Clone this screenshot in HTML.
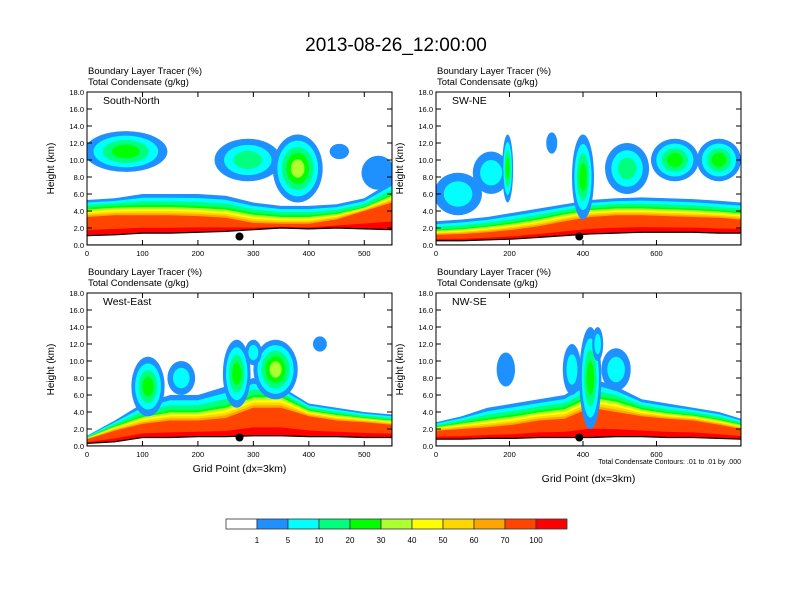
<!DOCTYPE html>
<html><head><meta charset="utf-8"><style>
body{margin:0;background:#fff}
svg{display:block;font-family:"Liberation Sans",sans-serif}
</style></head><body>
<svg id="svg" width="792" height="612" viewBox="0 0 792 612">
<text x="396" y="51" font-size="19" text-anchor="middle">2013-08-26_12:00:00</text>
<g id="panels"></g>
<g id="cbar"></g>
</svg>
<script>
const colors=["#ffffff","#1e90ff","#00ffff","#00ff7f","#00ff00","#adff2f","#ffff00","#ffd700","#ffa500","#ff4500","#ff0000"];
const cbarLabels=["1","5","10","20","30","40","50","60","70","100"];
const yTicks=[0,2,4,6,8,10,12,14,16,18];

const snX=[0,50,100,150,200,250,300,350,400,450,500,550];
const snGround=[1.1,1.2,1.4,1.4,1.5,1.6,1.8,2.0,1.9,2.0,1.9,1.8];
const snRed=[3.3,3.5,3.5,3.5,3.4,3.2,2.6,2.5,2.5,3.0,4.0,5.0];
const snGreen=[4.4,4.6,4.7,4.7,4.6,4.4,3.8,3.5,3.5,3.8,4.5,6.0];
const snBlue=[5.3,5.5,6.0,6.0,6.0,5.8,5.0,4.6,4.6,4.8,5.5,7.5];
const snClouds=[[70,11,150,4.8,4],[290,10,120,5,3],[380,9,90,8,5],[525,8.5,60,4,1],[455,11,35,1.8,1]];

const swX=[0,70,140,210,280,350,420,490,560,630,700,770,830];
const swGround=[0.5,0.5,0.6,0.7,0.9,1.1,1.3,1.4,1.5,1.5,1.5,1.4,1.4];
const swRed=[1.2,1.3,1.5,1.8,2.2,2.8,3.3,3.5,3.5,3.4,3.3,3.2,3.0];
const swGreen=[1.8,2.0,2.3,2.7,3.2,3.8,4.3,4.5,4.5,4.4,4.3,4.1,3.9];
const swBlue=[2.8,3.0,3.3,3.8,4.3,4.8,5.3,5.5,5.6,5.5,5.4,5.2,5.0];
const swClouds=[[60,6,130,5,2],[150,8.5,100,5,2],[195,9,30,8,4],[400,8,60,10,4],[520,9,120,6,3],[650,10,130,5,4],[770,10,120,5,4],[315,12,30,2.5,1]];

const weX=[0,50,100,150,200,250,300,350,400,450,500,550];
const weGround=[0.3,0.5,1.0,1.0,1.1,1.1,1.2,1.2,1.1,1.1,1.0,1.0];
const weRed=[0.8,1.8,2.6,3.0,3.0,3.3,4.5,4.5,3.5,3.0,2.8,2.5];
const weGreen=[1.0,2.4,3.6,4.2,4.2,4.8,6.0,6.0,4.3,3.8,3.4,3.1];
const weBlue=[1.2,3.0,5.0,6.0,6.0,7.0,8.0,7.0,5.0,4.5,4.0,3.7];
const weClouds=[[110,7,60,7,4],[170,8,50,4,2],[270,8.5,50,8,4],[340,9,80,7,5],[300,11,30,3,2],[420,12,25,1.8,1]];

const nwX=[0,70,140,210,280,350,420,490,560,630,700,770,830];
const nwGround=[0.8,0.8,0.9,0.9,1.0,1.0,1.0,1.1,1.1,1.0,1.0,0.9,0.8];
const nwRed=[1.8,2.0,2.2,2.5,3.0,3.2,4.5,4.0,3.5,3.2,3.0,2.5,2.0];
const nwGreen=[2.3,2.8,3.3,3.7,4.2,4.6,6.0,5.5,4.5,4.0,3.7,3.2,2.6];
const nwBlue=[2.8,3.5,4.5,5.0,5.5,6.0,8.0,7.0,5.5,5.0,4.5,4.0,3.2];
const nwClouds=[[190,9,50,4,1],[370,9,50,6,2],[420,8,60,12,4],[490,9,80,5,2],[440,12,30,4,2]];

const panels=[
 {name:"south-north",label:"South-North",x0:87,y0:92,xmax:550,xt:[0,100,200,300,400,500],X:snX,g:snGround,r:snRed,gr:snGreen,b:snBlue,c:snClouds,dot:275,xtitle:false},
 {name:"sw-ne",label:"SW-NE",x0:436,y0:92,xmax:830,xt:[0,200,400,600],X:swX,g:swGround,r:swRed,gr:swGreen,b:swBlue,c:swClouds,dot:390,xtitle:false},
 {name:"west-east",label:"West-East",x0:87,y0:293,xmax:550,xt:[0,100,200,300,400,500],X:weX,g:weGround,r:weRed,gr:weGreen,b:weBlue,c:weClouds,dot:275,xtitle:true},
 {name:"nw-se",label:"NW-SE",x0:436,y0:293,xmax:830,xt:[0,200,400,600],X:nwX,g:nwGround,r:nwRed,gr:nwGreen,b:nwBlue,c:nwClouds,dot:390,xtitle:true,note:true}
];
const NS="http://www.w3.org/2000/svg";
function mk(t,a,p){const e=document.createElementNS(NS,t);for(const k in a)e.setAttribute(k,a[k]);p.appendChild(e);return e;}
const root=document.getElementById('panels');
const W=305,H=153;
panels.forEach((P,pi)=>{
 const g=mk('g',{},root);
 
 
 const sx=v=>P.x0+v/P.xmax*W, sy=v=>P.y0+H-v/18*H;
 const cid='clip'+pi;
 const cp=mk('clipPath',{id:cid},g);mk('rect',{x:P.x0,y:P.y0,width:W,height:H},cp);
 const plot=mk('g',{'clip-path':`url(#${cid})`},g);
 const lerp=(a,b,f)=>P.X.map((_,i)=>a[i]+(b[i]-a[i])*f);
 const levels=[P.g,lerp(P.g,P.r,0.3),P.r,lerp(P.r,P.gr,0.2),lerp(P.r,P.gr,0.4),lerp(P.r,P.gr,0.6),lerp(P.r,P.gr,0.8),P.gr,lerp(P.gr,P.b,0.33),lerp(P.gr,P.b,0.66),P.b];
 const bandCol=[10,9,8,7,6,5,4,3,2,1];
 for(let k=levels.length-1;k>=1;k--){
  const top=levels[k];
  let d='M'+sx(P.X[0])+','+sy(0);
  P.X.forEach((x,i)=>d+=' L'+sx(x)+','+sy(top[i]));
  d+=' L'+sx(P.X[P.X.length-1])+','+sy(0)+'Z';
  const e=mk('path',{d,fill:colors[bandCol[k-1]]},plot);
  
  
 }
 P.c.forEach(c=>{
  for(let l=1;l<=c[4];l++){
   const f=1-(l-1)/(c[4]+0.5);
   const e=mk('ellipse',{cx:sx(c[0]),cy:sy(c[1]),rx:c[2]/2/P.xmax*W*f,ry:c[3]/2/18*H*f,fill:colors[l]},plot);
   
   
  }
 });
 let d='M'+sx(P.X[0])+','+sy(0);
 P.X.forEach((x,i)=>d+=' L'+sx(x)+','+sy(P.g[i]));
 d+=' L'+sx(P.X[P.X.length-1])+','+sy(0)+'Z';
 const t=mk('path',{d,fill:'#fff',stroke:'#000','stroke-width':1.2},plot);
 
 
 const dot=mk('circle',{cx:sx(P.dot),cy:sy(1.0),r:4,fill:'#000'},g);
 
 
 mk('rect',{x:P.x0,y:P.y0,width:W,height:H,fill:'none',stroke:'#000','stroke-width':1},g);
 yTicks.forEach(v=>{
  mk('line',{x1:P.x0,x2:P.x0+5,y1:sy(v),y2:sy(v),stroke:'#000'},g);
  mk('line',{x1:P.x0+W,x2:P.x0+W-5,y1:sy(v),y2:sy(v),stroke:'#000'},g);
  const tx=mk('text',{x:P.x0-3,y:sy(v)+3,'font-size':7.5,'text-anchor':'end'},g);tx.textContent=v.toFixed(1);
  
  
 });
 P.xt.forEach(v=>{
  mk('line',{x1:sx(v),x2:sx(v),y1:P.y0+H,y2:P.y0+H-5,stroke:'#000'},g);
  mk('line',{x1:sx(v),x2:sx(v),y1:P.y0,y2:P.y0+5,stroke:'#000'},g);
  const tx=mk('text',{x:sx(v),y:P.y0+H+11,'font-size':7.5,'text-anchor':'middle'},g);tx.textContent=v;
  
  
 });
 const lab=mk('text',{x:P.x0+16,y:P.y0+12,'font-size':10.5},g);lab.textContent=P.label;
 
 
 const h1=mk('text',{x:P.x0+1,y:P.y0-18,'font-size':9.5,'xml:space':'preserve'},g);h1.textContent='Boundary Layer Tracer   (%)';
 
 
 const h2=mk('text',{x:P.x0+1,y:P.y0-7,'font-size':9.5,'xml:space':'preserve'},g);h2.textContent='Total Condensate   (g/kg)';
 
 
 const yt=mk('text',{x:0,y:0,'font-size':10,'text-anchor':'middle',transform:`translate(${P.x0-33},${P.y0+H/2}) rotate(-90)`},g);yt.textContent='Height (km)';
 
 
 if(P.xtitle){
  const xt=mk('text',{x:P.x0+W/2,y:P.y0+H+(P.note?36:26),'font-size':10.5,'text-anchor':'middle'},g);xt.textContent='Grid Point (dx=3km)';
  
  
 }
 if(P.note){
  const n=mk('text',{x:P.x0+W,y:P.y0+H+18,'font-size':7,'text-anchor':'end'},g);n.textContent='Total Condensate Contours: .01 to .01 by .000';
  
  
 }
});
const cb=document.getElementById('cbar');
const bw=31,bx=226,by=519;
colors.forEach((c,i)=>{
 const r=mk('rect',{x:bx+i*bw,y:by,width:bw,height:10,fill:c,stroke:'#333','stroke-width':0.8},cb);
 
 
});
cbarLabels.forEach((l,i)=>{
 const t=mk('text',{x:bx+(i+1)*bw,y:by+24,'font-size':8,'text-anchor':'middle'},cb);t.textContent=l;
 
 
});
</script>
</body></html>
